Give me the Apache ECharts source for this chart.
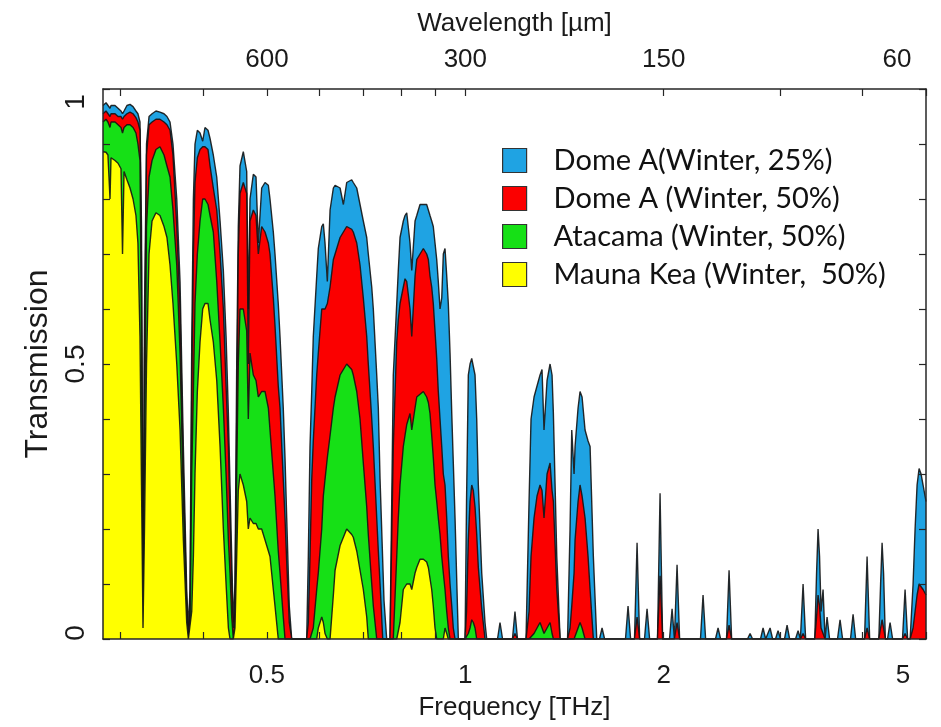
<!DOCTYPE html>
<html>
<head>
<meta charset="utf-8">
<title>Transmission</title>
<script src="https://cdn.jsdelivr.net/npm/echarts@6.0.0/dist/echarts.min.js"></script>
<style>
  html, body { margin: 0; padding: 0; background: #fff; }
  #chart { width: 941px; height: 727px; }
</style>
</head>
<body>
<div id="chart"></div>
<script>
// transmission windows up to ~1.6 THz, frequency in THz (one line per window)
const freqTHz = [
  0.2820, 0.2850, 0.2869, 0.2890, 0.2900, 0.2941, 0.2972, 0.3003, 0.3019, 0.3035, 0.3066, 0.3099, 0.3132, 0.3164, 0.3186, 0.3209, 0.3226, 0.3243, 0.3260, 0.3283,
  0.3312, 0.3347, 0.3393, 0.3441, 0.3490, 0.3526, 0.3564, 0.3601, 0.3649, 0.3691, 0.3734, 0.3778, 0.3800,
  0.3822, 0.3845, 0.3867, 0.3889, 0.3921, 0.3958, 0.3995, 0.4027, 0.4070, 0.4099, 0.4146, 0.4196, 0.4245, 0.4294, 0.4335, 0.4370, 0.4395, 0.4421, 0.4446,
  0.4472, 0.4499, 0.4524, 0.4551, 0.4604, 0.4659, 0.4685, 0.4713, 0.4768, 0.4813, 0.4852, 0.4909, 0.4967, 0.5025, 0.5054, 0.5113, 0.5143, 0.5202, 0.5234, 0.5294, 0.5326, 0.5358, 0.5406, 0.5452,
  0.5745, 0.5778, 0.5812, 0.5847, 0.5879, 0.5950, 0.5983, 0.6055, 0.6089, 0.6125, 0.6175, 0.6234, 0.6306, 0.6344, 0.6456, 0.6531, 0.6607, 0.6724, 0.6761, 0.6843, 0.6922, 0.7002, 0.7086, 0.7125, 0.7211, 0.7251, 0.7338, 0.7379, 0.7424, 0.7494, 0.7527, 0.7598,
  0.7686, 0.7775, 0.7869, 0.7912, 0.7960, 0.8052, 0.8100, 0.8149, 0.8243, 0.8293, 0.8389, 0.8439, 0.8536, 0.8636, 0.8737, 0.8788, 0.8839, 0.8892, 0.8941, 0.8995, 0.9049, 0.9099, 0.9154, 0.9209, 0.9260, 0.9315, 0.9371, 0.9423, 0.9480, 0.9537, 0.9589, 0.9647, 0.9759,
  0.9990, 1.0042, 1.0105, 1.0166, 1.0226, 1.0284, 1.0345, 1.0406, 1.0465, 1.0590, 1.0712, 1.0776,
  1.1190, 1.1288, 1.1390, 1.1790, 1.1894, 1.2000,
  1.2362, 1.2493, 1.2580, 1.2713, 1.2846, 1.2982, 1.3073, 1.3164, 1.3304, 1.3445, 1.3539, 1.3602, 1.3765, 1.3925,
  1.4292, 1.4417, 1.4504, 1.4621, 1.4672, 1.4827, 1.4930, 1.5036, 1.5194, 1.5354, 1.5463, 1.5641, 1.5827
];
const domeA25 = [
  .97, .975, .972, .965, .97, .97, .965, .96, .955, .96, .97, .972, .968, .96, .955, .94, .75, .04, .60, .90,
  .95, .955, .96, .958, .955, .95, .94, .90, .80, .65, .35, .09, .02,
  .09, .54, .80, .90, .925, .92, .905, .93, .925, .91, .88, .84, .76, .67, .55, .41, .28, .15, .03,
  .10, .50, .75, .86, .886, .85, .60, .80, .845, .84, .72, .82, .83, .825, .80, .74, .70, .61, .55, .42, .33, .22, .06, 0,
  0, .15, .35, .45, .55, .66, .71, .75, .755, .72, .65, .78, .82, .825, .82, .79, .83, .835, .83, .82, .79, .76, .73, .70, .64, .60, .48, .42, .29, .14, .07, 0,
  0, .48, .61, .67, .73, .76, .77, .775, .72, .67, .76, .77, .79, .79, .79, .78, .77, .76, .75, .72, .69, .65, .60, .62, .70, .71, .66, .61, .52, .41, .32, .22, 0,
  0, .25, .48, .50, .51, .51, .48, .40, .28, .12, .03, 0,
  0, .03, 0, 0, .05, 0,
  0, .25, .40, .44, .46, .48, .49, .38, .47, .50, .48, .41, .15, 0,
  0, .20, .38, .30, .35, .42, .45, .44, .38, .36, .35, .15, 0
];
const domeA50 = [
  .955, .96, .958, .95, .955, .955, .95, .95, .945, .95, .955, .958, .955, .948, .94, .925, .68, .03, .50, .88,
  .935, .94, .945, .945, .94, .935, .925, .88, .75, .60, .30, .06, .01,
  .05, .45, .70, .83, .875, .89, .895, .895, .89, .86, .82, .78, .70, .60, .46, .35, .22, .10, .02,
  .05, .40, .70, .81, .83, .81, .50, .76, .78, .77, .70, .75, .74, .72, .70, .62, .57, .46, .42, .29, .22, .14, .03, 0,
  0, .03, .15, .29, .36, .48, .52, .60, .60, .60, .61, .64, .69, .70, .73, .74, .75, .745, .74, .72, .68, .62, .55, .50, .40, .35, .22, .16, .10, 0, 0, 0,
  0, .35, .54, .58, .61, .64, .655, .65, .60, .55, .66, .69, .70, .71, .70, .69, .66, .64, .61, .56, .51, .45, .40, .35, .30, .28, .22, .15, .10, .06, .02, 0, 0,
  0, .05, .18, .25, .28, .27, .24, .19, .13, .055, 0, 0,
  0, 0, 0, 0, .01, 0,
  0, .05, .15, .22, .26, .28, .27, .22, .30, .32, .27, .25, .09, 0,
  0, .02, .06, .12, .18, .25, .28, .26, .22, .15, .09, 0, 0
];
const atacama = [
  .94, .945, .94, .93, .94, .94, .935, .93, .92, .93, .935, .935, .93, .92, .90, .87, .55, .02, .35, .75,
  .84, .87, .89, .895, .88, .86, .84, .78, .68, .52, .25, .05, 0,
  .02, .30, .45, .61, .70, .76, .80, .80, .79, .77, .74, .65, .54, .42, .30, .18, .12, .04, 0,
  .03, .30, .50, .60, .60, .56, .40, .52, .48, .47, .44, .45, .45, .42, .38, .30, .26, .16, .12, .04, 0, 0, 0, 0,
  0, 0, 0, 0, .02, .09, .12, .20, .26, .29, .33, .37, .42, .44, .48, .49, .50, .49, .48, .45, .40, .32, .24, .19, .10, .06, 0, 0, 0, 0, 0, 0,
  0, 0, .15, .22, .28, .35, .37, .39, .41, .38, .42, .44, .445, .45, .44, .43, .41, .37, .33, .28, .25, .22, .19, .15, .12, .09, .05, .02, 0, 0, 0, 0, 0,
  0, 0, .01, .02, .035, .03, .02, 0, 0, 0, 0, 0,
  0, 0, 0, 0, 0, 0,
  0, 0, 0, .01, .02, .03, .02, .01, .02, .03, .01, 0, 0, 0,
  0, 0, 0, 0, 0, .02, .03, .02, 0, 0, 0, 0, 0
];
const maunaKea = [
  .886, .885, .88, .80, .875, .87, .865, .855, .70, .85, .835, .82, .80, .77, .72, .55, .28, .02, .20, .50,
  .70, .76, .775, .77, .75, .73, .68, .61, .50, .38, .18, .03, 0,
  0, .05, .15, .30, .45, .54, .60, .61, .61, .58, .54, .47, .35, .20, .10, .02, 0, 0, 0,
  .02, .15, .27, .30, .28, .25, .20, .22, .21, .21, .20, .20, .18, .16, .15, .09, .06, 0, 0, 0, 0, 0, 0, 0,
  0, 0, 0, 0, 0, 0, .02, .04, .03, .01, 0, 0, .08, .125, .17, .185, .20, .19, .185, .16, .125, .09, .04, 0, 0, 0, 0, 0, 0, 0, 0, 0,
  0, 0, 0, 0, .03, .09, .095, .10, .10, .09, .12, .13, .145, .145, .14, .13, .11, .09, .06, .02, 0, 0, 0, 0, 0, .02, .01, 0, 0, 0, 0, 0, 0,
  0, 0, 0, 0, 0, 0, 0, 0, 0, 0, 0, 0,
  0, 0, 0, 0, 0, 0,
  0, 0, 0, 0, 0, 0, 0, 0, 0, 0, 0, 0, 0, 0,
  0, 0, 0, 0, 0, 0, 0, 0, 0, 0, 0, 0, 0
];

// narrow lines above 1.6 THz, only Dome A gets through
const lineFreqTHz = [
  1.5979, 1.6123, 1.6268, 1.7499, 1.7656, 1.7815, 1.8058, 1.8221, 1.8385, 1.8700, 1.8868, 1.9038,
  1.9569, 1.9745, 1.9923, 2.0408, 2.0592, 2.0760, 2.0775, 2.0953, 2.1142, 2.2740, 2.2945, 2.3152,
  2.3964, 2.4180, 2.4398, 2.4904, 2.5128, 2.5354, 2.6800, 2.7041, 2.7284, 2.8046, 2.8298, 2.8553,
  2.8740, 2.8999, 2.9260, 2.9554, 2.9820, 3.0088, 3.0500, 3.0774, 3.1051, 3.1695, 3.1980, 3.2240,
  3.2260, 3.2543, 3.2836,
  3.3900, 3.4113, 3.4292, 3.4472, 3.4653, 3.4897, 3.5142, 3.5388, 3.5700,
  3.6701, 3.7031, 3.7364, 3.8409, 3.8755, 3.9104, 4.0336, 4.0699, 4.1065,
  4.2400, 4.2666, 4.2888, 4.3113, 4.3380, 4.3709, 4.4102, 4.4499, 4.6060, 4.6475, 4.6893,
  4.7300, 4.7793, 4.8129, 4.8466, 4.8806, 4.9148, 4.9492, 5.0000
];
const domeA25Lines = [
  0, .02, 0, 0, .06, 0, 0, .175, 0, 0, .055, 0,
  0, .265, 0, 0, .055, 0, 0, .135, 0, 0, .08, 0,
  0, .02, 0, 0, .125, 0, 0, .01, 0, 0, .02, 0,
  0, .02, 0, 0, .015, 0, 0, .025, 0, 0, .015, 0,
  0, .10, 0,
  0, .12, .20, .15, .05, .09, 0, .04, 0,
  0, .035, 0, 0, .045, 0, 0, .15, 0,
  0, .10, .175, .12, 0, 0, .03, 0, 0, .09, 0,
  0, .10, .20, .28, .31, .30, .28, .25
];
const domeA50Lines = [
  0, 0, 0, 0, 0, 0, 0, .04, 0, 0, 0, 0,
  0, .115, 0, 0, 0, 0, 0, .03, 0, 0, 0, 0,
  0, 0, 0, 0, .025, 0, 0, 0, 0, 0, 0, 0,
  0, 0, 0, 0, 0, 0, 0, 0, 0, 0, 0, 0,
  0, .01, 0,
  0, .04, .08, .06, .02, .01, 0, 0, 0,
  0, 0, 0, 0, 0, 0, 0, .02, 0,
  0, .02, .035, .02, 0, 0, 0, 0, 0, .01, 0,
  0, .02, .05, .08, .10, .10, .09, .08
];

const seriesNames = ['Dome A(Winter, 25%)', 'Dome A (Winter, 50%)', 'Atacama (Winter, 50%)', 'Mauna Kea (Winter,  50%)'];
const fillColors = ['#1fa3e3', '#fb0000', '#16e016', '#ffff00'];

const tickFreqs = [0.3, 0.4, 0.5, 0.6, 0.7, 0.8, 0.9, 1, 2, 3, 4, 5];
const freqLabels = [0.5, 1, 2, 5];
const wavelengthLabels = [600, 300, 150, 60]; // µm, lambda = 300 / f
const yTickLabels = [0, 0.5, 1];

const lg = Math.log10;
const xMin = lg(0.282), xMax = lg(5);

function pairs(fs, vs) {
  return fs.map((f, i) => [lg(f), vs[i]]);
}
const curves = [
  pairs(freqTHz, domeA25).concat(pairs(lineFreqTHz, domeA25Lines)),
  pairs(freqTHz, domeA50).concat(pairs(lineFreqTHz, domeA50Lines)),
  pairs(freqTHz, atacama),
  pairs(freqTHz, maunaKea)
];

const axisFont = { fontFamily: 'Liberation Sans', fontSize: 26, color: '#1a1a1a' };
const nameFont = { fontFamily: 'Liberation Sans', fontSize: 26, color: '#1a1a1a' };
const frame = { show: true, onZero: false, lineStyle: { color: '#262626', width: 1.5 } };
const ticks = { show: true, inside: true, length: 7, lineStyle: { color: '#262626', width: 1.2 } };

const chart = echarts.init(document.getElementById('chart'));
chart.setOption({
  animation: false,
  backgroundColor: '#fff',
  grid: { left: 103, right: 15, top: 89, bottom: 88, containLabel: false, outerBoundsMode: 'none' },
  legend: {
    orient: 'vertical',
    left: 502,
    top: 146,
    padding: 0,
    itemWidth: 24,
    itemHeight: 24,
    itemGap: 9,
    icon: 'rect',
    selectedMode: false,
    textStyle: { fontFamily: 'Lato', fontSize: 29, color: '#111', lineHeight: 24, padding: [0, 0, 0, 22] },
    data: seriesNames.map((n, i) => ({
      name: n,
      itemStyle: { color: fillColors[i], borderColor: '#333', borderWidth: 1.2 }
    }))
  },
  xAxis: [
    {
      type: 'value', position: 'bottom', min: xMin, max: xMax, z: 10,
      name: 'Frequency [THz]', nameLocation: 'middle', nameGap: 56, nameTextStyle: nameFont,
      axisLine: frame,
      axisTick: Object.assign({ customValues: tickFreqs.map(lg) }, ticks),
      axisLabel: Object.assign({
        customValues: freqLabels.map(lg),
        margin: 24,
        formatter: v => {
          const f = +Math.pow(10, v).toPrecision(3);
          return f === freqLabels[freqLabels.length - 1] ? '{edge|' + f + '}' : String(f);
        },
        rich: { edge: { padding: [0, 46, 0, 0] } }
      }, axisFont),
      splitLine: { show: false }
    },
    {
      type: 'value', position: 'top', min: xMin, max: xMax, z: 10,
      name: 'Wavelength [µm]', nameLocation: 'middle', nameGap: 52, nameTextStyle: nameFont,
      axisLine: frame,
      axisTick: Object.assign({ customValues: tickFreqs.map(lg) }, ticks),
      axisLabel: Object.assign({
        customValues: wavelengthLabels.map(l => lg(300 / l)),
        margin: 16,
        formatter: v => {
          const l = Math.round(300 / Math.pow(10, v));
          return l === wavelengthLabels[wavelengthLabels.length - 1] ? '{edge|' + l + '}' : String(l);
        },
        rich: { edge: { padding: [0, 58, 0, 0] } }
      }, axisFont),
      splitLine: { show: false }
    }
  ],
  yAxis: [
    {
      type: 'value', position: 'left', min: 0, max: 1, interval: 0.1, z: 10,
      name: 'Transmission', nameLocation: 'middle', nameGap: 47,
      nameTextStyle: Object.assign({}, nameFont, { fontSize: 32 }),
      axisLine: frame,
      axisTick: ticks,
      axisLabel: Object.assign({
        customValues: yTickLabels,
        rotate: 90,
        margin: 13,
        formatter: v => v === 0 ? '{lo|0}' : v === 1 ? '{hi|1}' : String(v),
        rich: { lo: { padding: [0, 0, 0, 12] }, hi: { padding: [0, 26, 0, 0] } }
      }, axisFont, { fontSize: 28 }),
      splitLine: { show: false }
    },
    {
      type: 'value', position: 'right', min: 0, max: 1, interval: 0.1, z: 10,
      axisLine: frame,
      axisTick: ticks,
      axisLabel: { show: false },
      splitLine: { show: false }
    }
  ],
  series: curves.map((data, i) => ({
    name: seriesNames[i],
    type: 'line',
    data: data,
    xAxisIndex: 0,
    yAxisIndex: 0,
    symbol: 'none',
    silent: true,
    z: 2 + i,
    itemStyle: { color: fillColors[i] },
    lineStyle: { color: 'rgba(20,20,20,0.9)', width: 1.4 },
    areaStyle: { color: fillColors[i], opacity: 1 }
  }))
});
</script>
</body>
</html>
